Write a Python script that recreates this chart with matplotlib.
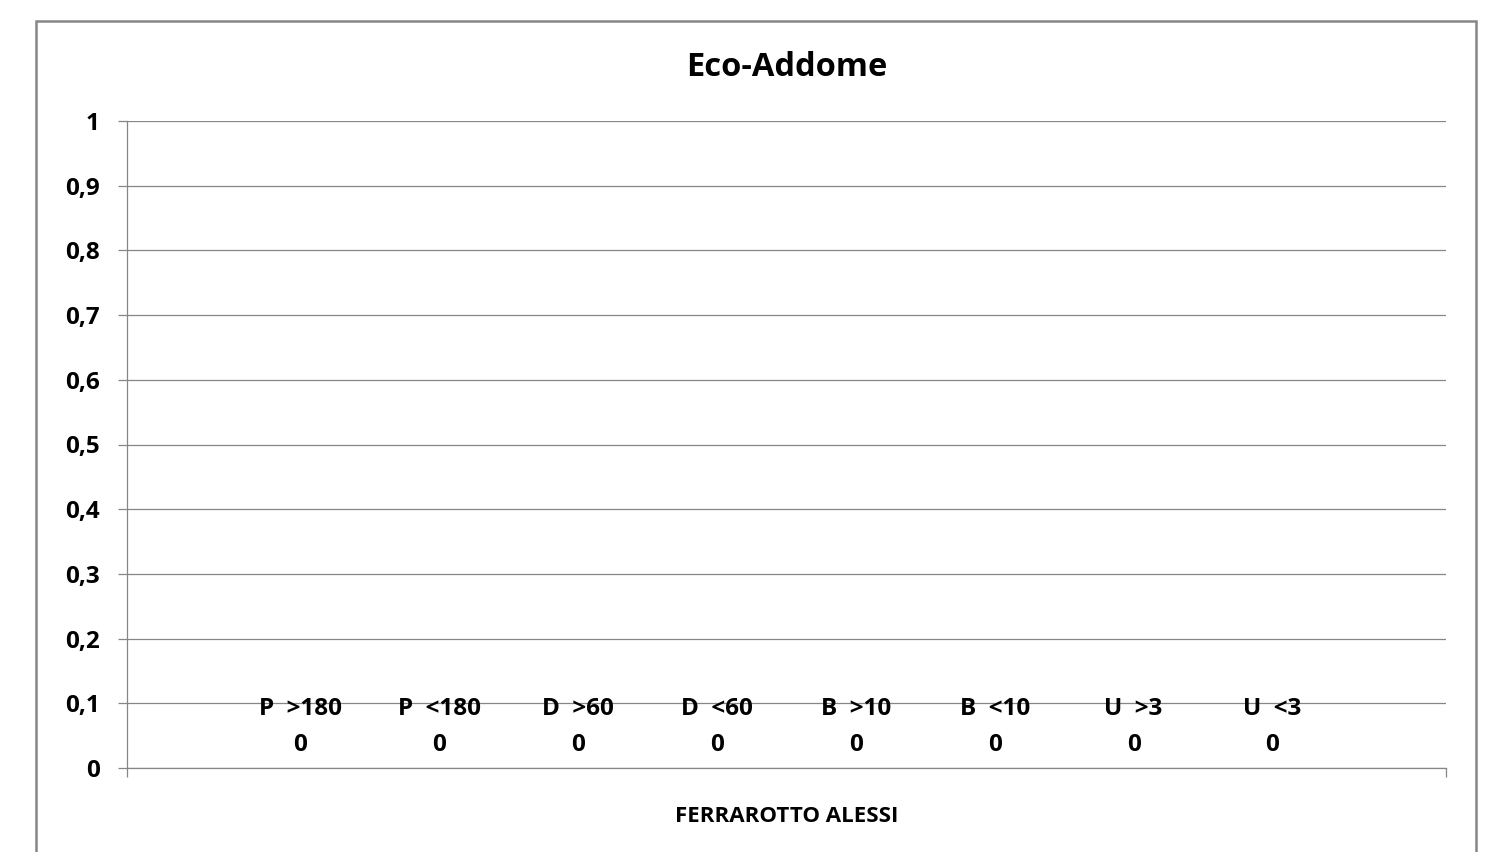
"""Eco-Addome clustered bar chart (all values zero), Excel style."""

import matplotlib

matplotlib.use("Agg")
import matplotlib.pyplot as plt
from matplotlib.patches import Rectangle
from matplotlib.ticker import FuncFormatter

# Data
series_names = ["P  >180", "P  <180", "D  >60", "D  <60",
                "B  >10", "B  <10", "U  >3", "U  <3"]
series_values = [0, 0, 0, 0, 0, 0, 0, 0]
category = "FERRAROTTO ALESSI"
chart_title = "Eco-Addome"
y_ticks = [0, 0.1, 0.2, 0.3, 0.4, 0.5, 0.6, 0.7, 0.8, 0.9, 1]

GRAY = "#868686"
plt.rcParams["font.family"] = ["Open Sans", "DejaVu Sans"]
plt.rcParams["font.weight"] = "bold"

W, H = 1488, 852
fig = plt.figure(figsize=(W / 100, H / 100), dpi=100)

# Plot area in pixel terms
left, right, top, bottom = 127, 1446, 121, 768
ax = fig.add_axes([left / W, (H - bottom) / H,
                   (right - left) / W, (bottom - top) / H])

# Outer chart border (bottom edge falls outside the image)
fig.patches.append(Rectangle((36 / W, -0.05), (1476 - 36) / W, 0.05 + (H - 21) / H,
                             transform=fig.transFigure, fill=False,
                             edgecolor=GRAY, linewidth=1.8))

# Excel clustered bars: gap width 150%
n = len(series_names)
bar_w = 1 / (n + 1.5)
for i, (name, val) in enumerate(zip(series_names, series_values)):
    x = (i - (n - 1) / 2) * bar_w
    bars = ax.bar([x], [val], width=bar_w, color="#4F81BD")
    ax.bar_label(bars, labels=[f"{name}\n{val}"], padding=8,
                 fontsize=17.5, fontweight="bold", linespacing=1.65)

ax.set_xlim(-0.5, 0.5)
ax.set_ylim(0, 1)
ax.set_yticks(y_ticks)
ax.yaxis.set_major_formatter(
    FuncFormatter(lambda v, _: f"{v:g}".replace(".", ",")))
ax.grid(axis="y", color=GRAY, linewidth=0.9)
ax.set_axisbelow(True)

# Category boundary tick marks and the category label
ax.set_xticks([-0.5, 0.5])
ax.set_xticklabels([])
ax.set_xticks([0], [category], minor=True)
ax.tick_params(axis="x", which="minor", length=0, pad=27, labelsize=16)
ax.tick_params(axis="x", which="major", length=6.5, color=GRAY, width=0.9)
ax.tick_params(axis="y", length=6.5, color=GRAY, width=0.9, pad=13,
               labelsize=17.5)
for lbl in ax.get_yticklabels() + ax.get_xticklabels(minor=True):
    lbl.set_fontweight("bold")

for side in ["top", "right"]:
    ax.spines[side].set_visible(False)
for side in ["left", "bottom"]:
    ax.spines[side].set_color(GRAY)
    ax.spines[side].set_linewidth(0.9)

fig.text((left + right) / 2 / W, 1 - 68 / H, chart_title, ha="center",
         va="center", fontsize=23.5, fontweight="bold")

fig.savefig("out.png", dpi=100)
